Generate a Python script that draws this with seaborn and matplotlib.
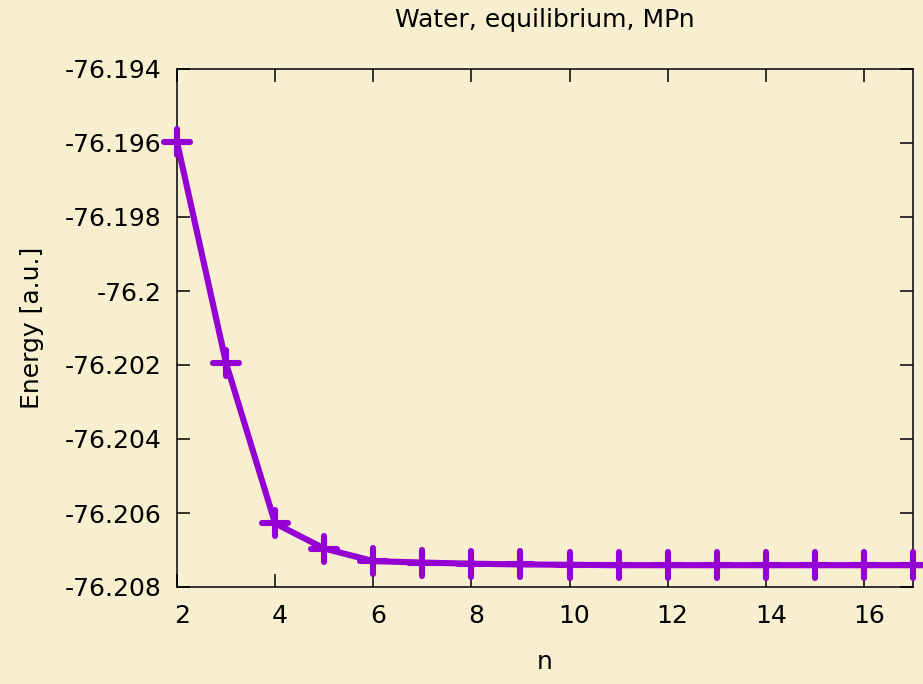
import matplotlib
matplotlib.use("Agg")
import matplotlib.pyplot as plt
import matplotlib.transforms as mtransforms
from matplotlib.markers import MarkerStyle
import pandas as pd
import seaborn as sns

# MPn perturbation order and the corresponding total energies (hartree)
order_n = [2, 3, 4, 5, 6, 7, 8, 9, 10, 11, 12, 13, 14, 15, 16, 17, 18, 19, 20]
energy = [-76.19597, -76.20195, -76.20628, -76.20696, -76.20730, -76.20734,
          -76.20737, -76.20739, -76.20740, -76.20741, -76.20741, -76.20741,
          -76.20741, -76.20741, -76.20741, -76.20741, -76.20741, -76.20741,
          -76.20741]

x_ticks = [2, 4, 6, 8, 10, 12, 14, 16]
y_ticks = [-76.194, -76.196, -76.198, -76.2, -76.202, -76.204, -76.206, -76.208]
y_tick_labels = ["-76.194", "-76.196", "-76.198", "-76.2", "-76.202",
                 "-76.204", "-76.206", "-76.208"]

bg = "#f8efd1"
line_color = "#9400d3"

sns.set_theme(style="ticks", rc={
    "figure.facecolor": bg,
    "axes.facecolor": bg,
    "savefig.facecolor": bg,
    "axes.edgecolor": "black",
    "axes.linewidth": 1.1,
    "text.color": "black",
    "axes.labelcolor": "black",
    "xtick.color": "black",
    "ytick.color": "black",
})
plt.rcParams["font.family"] = ["DejaVu Sans"]

df = pd.DataFrame({"n": order_n, "E": energy})

fig = plt.figure(figsize=(9.23, 6.84), dpi=100)
ax = fig.add_axes([177 / 923, 97 / 684, (913 - 177) / 923, (587 - 69) / 684])

sns.lineplot(
    data=df, x="n", y="E", ax=ax,
    color=line_color, linewidth=4.4,
    marker=MarkerStyle("+", capstyle="round"),
    markersize=19, markeredgewidth=4.4,
    markeredgecolor=line_color, markerfacecolor=line_color,
    solid_capstyle="round", solid_joinstyle="round",
    clip_on=False, zorder=3,
)

ax.set_xlim(2, 17)
ax.set_ylim(-76.208, -76.194)

ax.set_xticks(x_ticks)
ax.set_xticklabels([str(v) for v in x_ticks])
ax.set_yticks(y_ticks)
ax.set_yticklabels(y_tick_labels)

ax.tick_params(axis="both", which="major", direction="in", length=9.4,
               width=1.1, labelsize=18, top=True, right=True)
ax.tick_params(axis="x", pad=12)
ax.tick_params(axis="y", pad=11)

# nudge the x tick labels slightly to the right
shift = mtransforms.ScaledTranslation(5 / 100, 0, fig.dpi_scale_trans)
for lab in ax.get_xticklabels():
    lab.set_transform(lab.get_transform() + shift)

for side in ["top", "right", "bottom", "left"]:
    ax.spines[side].set_visible(True)
    ax.spines[side].set_linewidth(1.1)

ax.set_xlabel("n", fontsize=18, labelpad=16)
ax.set_ylabel("Energy [a.u.]", fontsize=18, labelpad=15)
ax.set_title("Water, equilibrium, MPn", fontsize=18, pad=30)

fig.savefig("out.png", dpi=100, facecolor=bg)
